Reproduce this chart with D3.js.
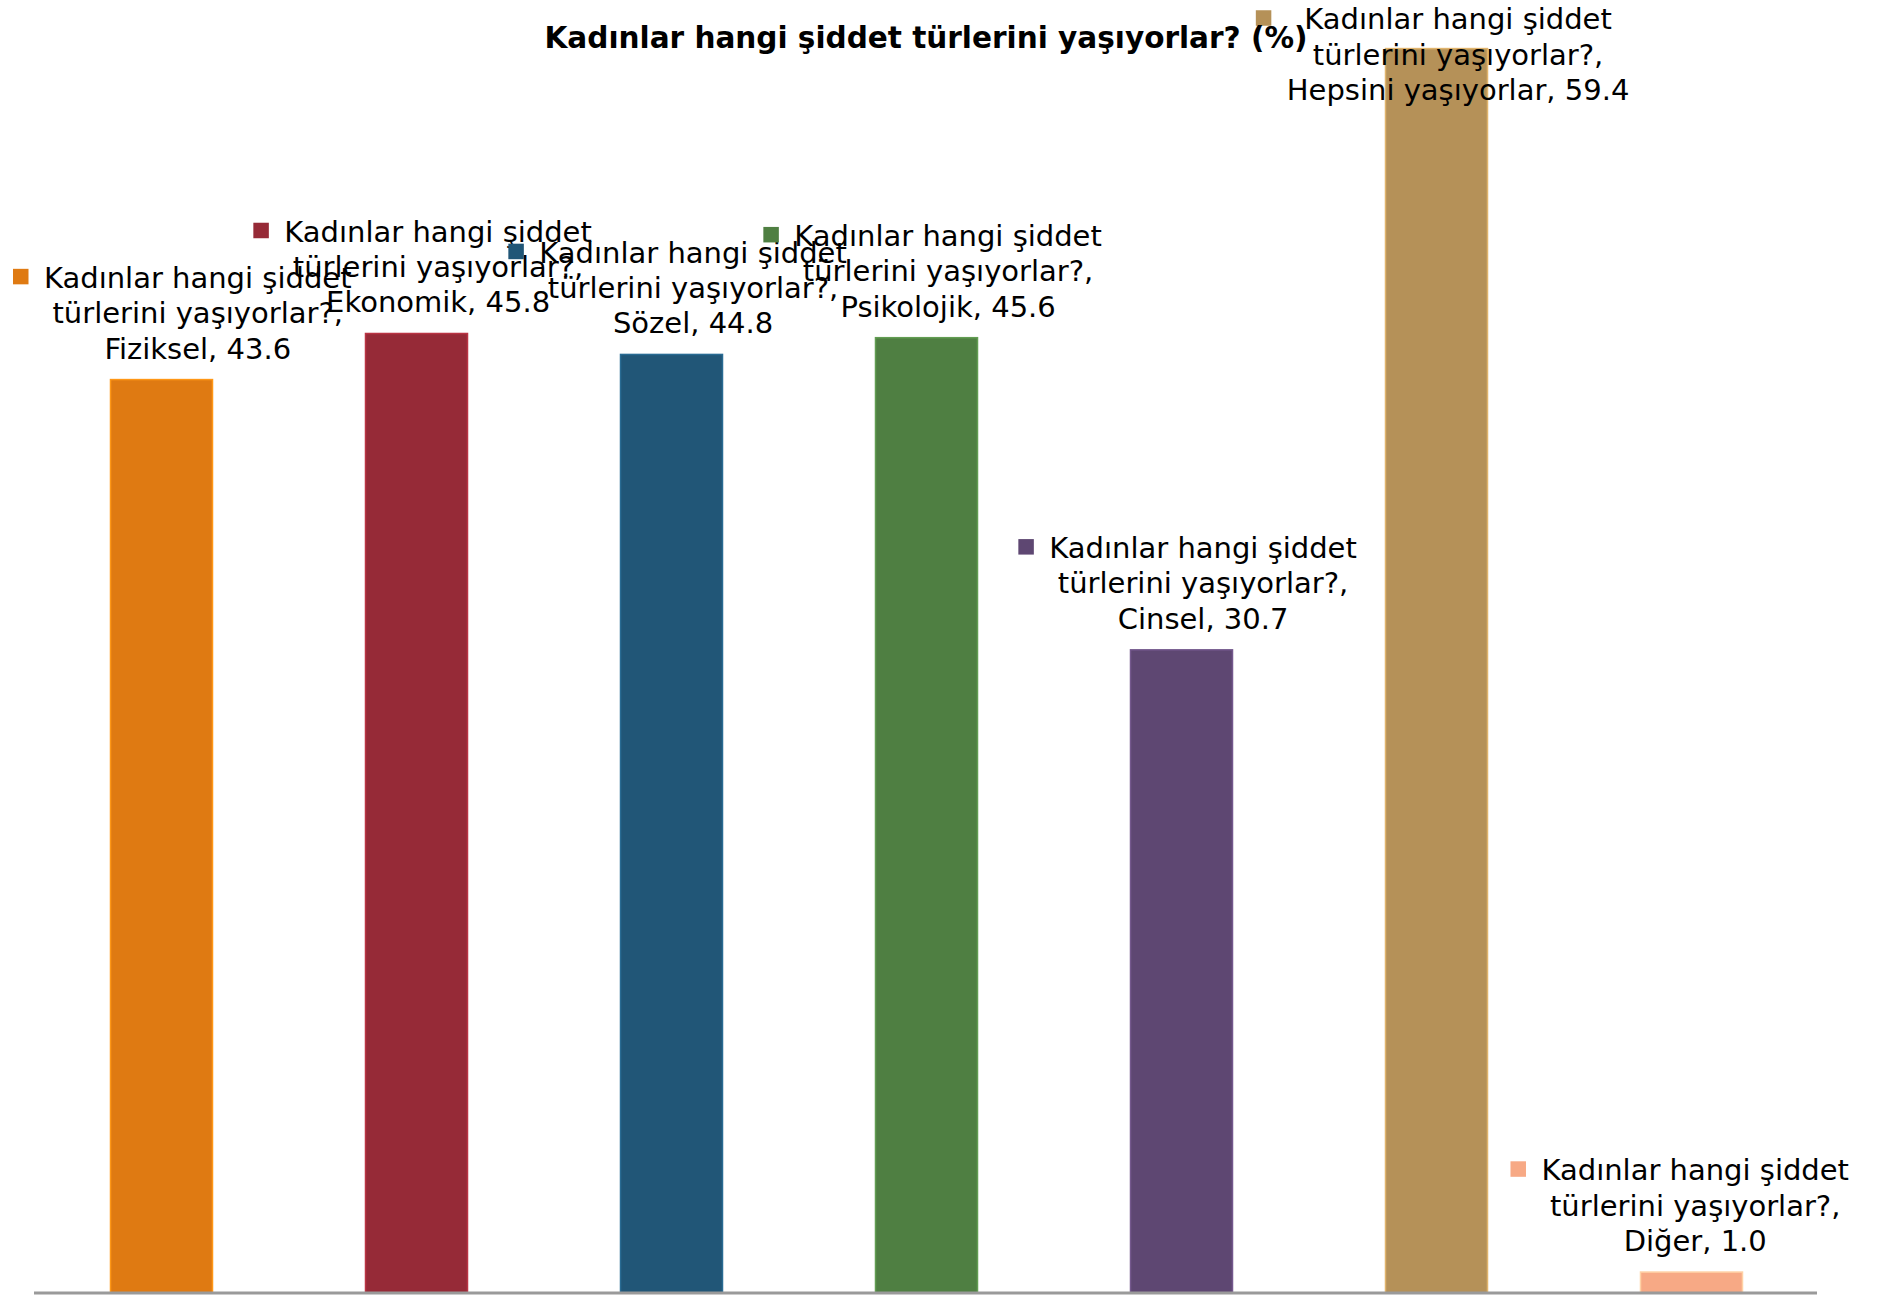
<!DOCTYPE html>
<html><head><meta charset="utf-8">
<script src="https://cdn.jsdelivr.net/npm/d3@7"></script>
<style>html,body{margin:0;padding:0;background:#fff;}svg{display:block;}</style>
</head><body>
<svg id="chart" width="1879" height="1296"></svg>
<script>
const title = "Kadınlar hangi şiddet türlerini yaşıyorlar? (%)";
const seriesName = ["Kadınlar hangi şiddet", "türlerini yaşıyorlar?,"];
const categories = ["Fiziksel", "Ekonomik", "Sözel", "Psikolojik", "Cinsel", "Hepsini yaşıyorlar", "Diğer"];
const values = [43.6, 45.8, 44.8, 45.6, 30.7, 59.4, 1.0];
const colors = ["#DF7A12", "#962A37", "#215677", "#4F7F42", "#5E4772", "#B59158", "#F7A985"];

const svg = d3.select("#chart");
const W = 1879, H = 1296;
const x = d3.scaleBand().domain(categories).range([34, 1819]).paddingInner(0.6).paddingOuter(0.3);
const y = d3.scaleLinear().domain([0, 60]).range([1293, 36]);

// bars
svg.append("g").selectAll("rect").data(categories).join("rect")
  .attr("x", d => x(d))
  .attr("y", (d, i) => y(values[i]))
  .attr("width", x.bandwidth())
  .attr("height", (d, i) => y(0) - y(values[i]))
  .attr("fill", (d, i) => colors[i])
  .attr("stroke", (d, i) => d3.color(colors[i]).brighter(0.6))
  .attr("stroke-width", 1.5);

// axis line
const axis = d3.axisBottom(x).tickSize(0).tickFormat("");
const ag = svg.append("g").attr("transform", `translate(0,${y(0)})`).call(axis);
ag.select(".domain").attr("stroke", "#9a9a9a").attr("stroke-width", 3)
  .attr("d", "M34,0H1817");

// labels
const fontSize = 29, lineH = 35.4;
const lg = svg.append("g").attr("font-family", "DejaVu Sans, Verdana, sans-serif").attr("font-size", fontSize).attr("fill", "#000");
categories.forEach((c, i) => {
  const lines = [seriesName[0], seriesName[1], `${c}, ${values[i].toFixed(1)}`];
  const g = lg.append("g");
  const texts = lines.map((t, k) => g.append("text").attr("text-anchor", "middle").attr("dy", "0.35em").text(t));
  const widths = texts.map(t => t.node().getComputedTextLength());
  const bw = d3.max(widths);
  let cx = x(c) + x.bandwidth() / 2 + 21.6;
  const markGap = 31, markSize = 15.5;
  if (cx - bw / 2 - markGap < 13) cx = 13 + markGap + bw / 2;
  if (cx + bw / 2 > 1849) cx = 1849 - bw / 2;
  let cy1 = Math.max(y(values[i]) - 102, 19);
  texts.forEach((t, k) => t.attr("x", cx).attr("y", cy1 + k * lineH));
  g.append("rect")
    .attr("x", cx - bw / 2 - markGap)
    .attr("y", cy1 - markSize / 2 - 1)
    .attr("width", markSize).attr("height", markSize)
    .attr("fill", colors[i]);
});

// title
svg.append("text")
  .attr("x", 926).attr("y", 48)
  .attr("text-anchor", "middle")
  .attr("font-family", "Liberation Sans Narrow, DejaVu Sans Condensed, sans-serif")
  .attr("font-weight", "bold")
  .attr("font-size", 31)
  .attr("textLength", 763).attr("lengthAdjust", "spacingAndGlyphs")
  .text(title);
</script>
</body></html>
